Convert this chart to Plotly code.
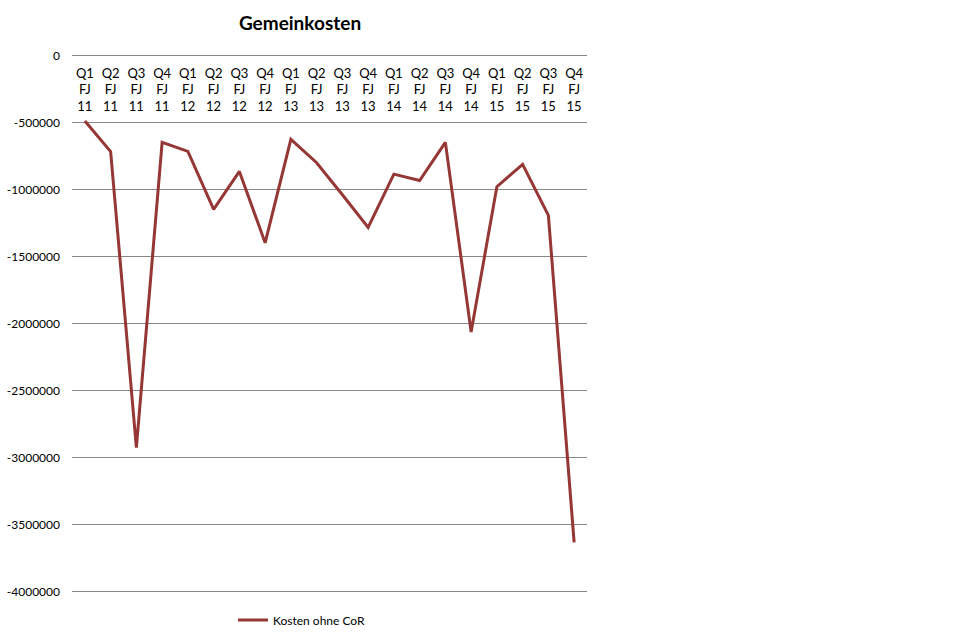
import plotly.graph_objects as go

# Quarter labels (fiscal year) and overhead costs without CoR
quarters = ['Q1', 'Q2', 'Q3', 'Q4'] * 5
years = ['11'] * 4 + ['12'] * 4 + ['13'] * 4 + ['14'] * 4 + ['15'] * 4
categories = [f'{q}<br>FJ<br>{y}' for q, y in zip(quarters, years)]

kosten_ohne_cor = [-490000, -717000, -2926000, -649000, -716000, -1149000, -866000, -1398000,
                   -627000, -801000, -1040000, -1284000, -886000, -934000, -649000, -2063000,
                   -980000, -813000, -1194000, -3633000]

tick_values = [0, -500000, -1000000, -1500000, -2000000, -2500000, -3000000, -3500000, -4000000]
tick_labels = [str(v) for v in tick_values]

LINE_COLOR = '#953735'
GRID_COLOR = '#878787'
FONT = 'Lato, "Open Sans", sans-serif'

fig = go.Figure()
fig.add_trace(go.Scatter(x=categories, y=kosten_ohne_cor, mode='lines', name='Kosten ohne CoR',
                         line=dict(color=LINE_COLOR, width=3)))

fig.update_layout(
    width=960, height=638,
    margin=dict(l=72, r=373, t=54, b=45, autoexpand=False),
    paper_bgcolor='white',
    plot_bgcolor='white',
    font=dict(family=FONT, size=12, color='#000000'),
    title=dict(text='<b>Gemeinkosten</b>', x=300 / 960, xanchor='center', xref='container',
               y=1 - 23 / 638, yanchor='middle', yref='container',
               font=dict(family=FONT, size=19, color='#000000')),
    showlegend=True,
    legend=dict(orientation='h', x=233 / 960, xanchor='left', xref='container',
                y=(638 - 620) / 638, yanchor='middle', yref='container',
                font=dict(family=FONT, size=12), bgcolor='rgba(0,0,0,0)'),
    # category labels sit just under the 0 line, inside the plot area
    xaxis=dict(type='category', anchor='free', position=0.986, side='bottom', showgrid=False,
               showline=False, zeroline=False, ticks='', range=[-0.5, 19.5], automargin=False,
               ticklabelstandoff=2, tickfont=dict(family=FONT, size=13)),
    # small padding so the 0 and -4000000 gridlines are not clipped at the plot edges
    yaxis=dict(range=[-4010000, 10000], tickvals=tick_values, ticktext=tick_labels, showgrid=True,
               gridcolor=GRID_COLOR, gridwidth=1, zeroline=False, showline=False, ticks='',
               automargin=False, ticklabelstandoff=11, tickfont=dict(family=FONT, size=12)),
)

fig.write_html('out.html', config={'displayModeBar': False},
               post_script="document.body.style.margin='0';")
